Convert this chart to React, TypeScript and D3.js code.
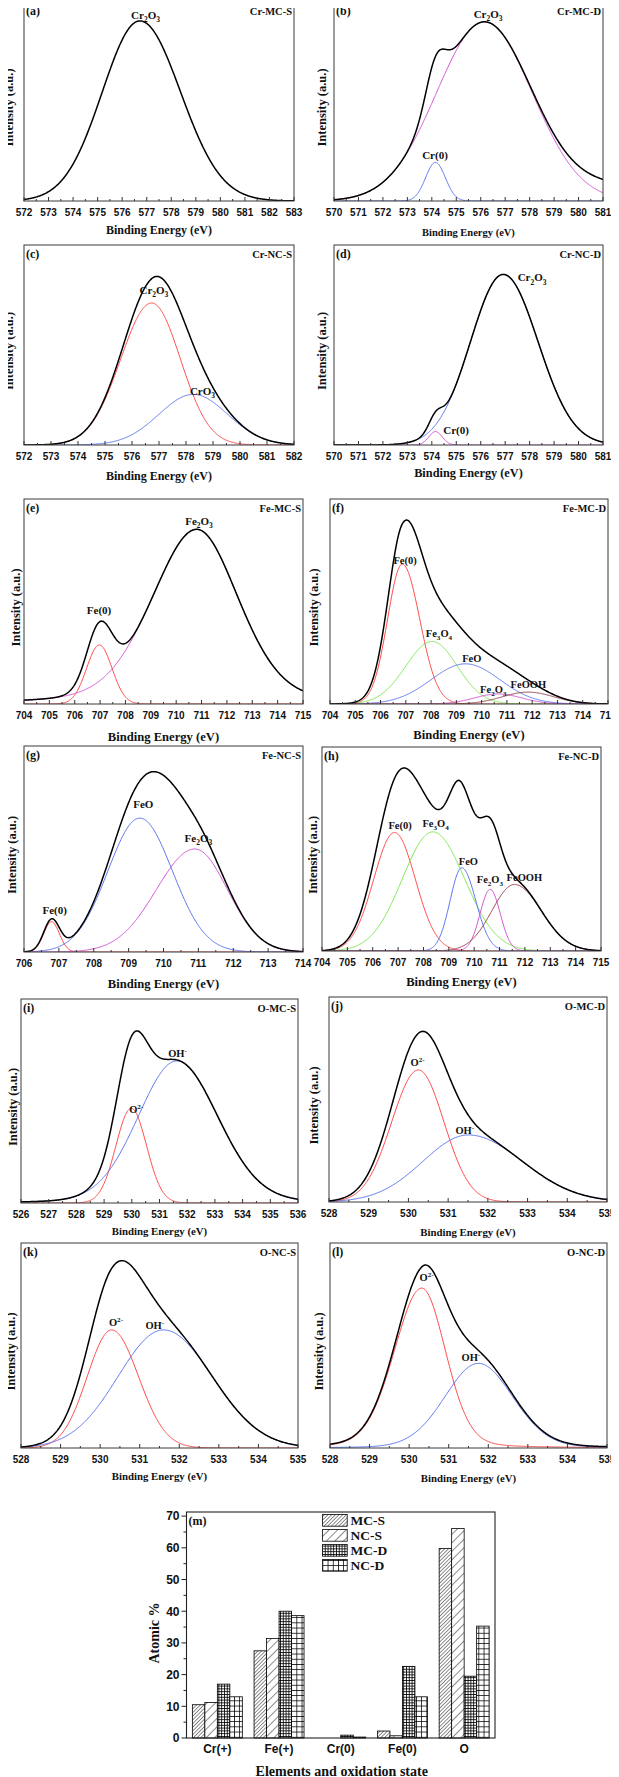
import React from "react";
import * as d3 from "d3";

// ---------------- DATA ----------------
// XPS peak fits: [component, centre (eV), height (fraction of plot height),
//                 FWHM on low-energy side, FWHM on high-energy side, Lorentzian fraction]
type Peak = [string, number, number, number, number, number];

const peaksCrMCS: Peak[] = [["Cr2O3", 576.72, 0.905, 3.6, 3.9, 0]];
const peaksCrMCD: Peak[] = [
  ["Cr2O3", 576.15, 0.9, 4.6, 4.6, 0],
  ["Cr(0)", 574.15, 0.194, 0.95, 0.95, 0],
  ["background", 581.5, 0.07, 4, 4, 0],
];
const peaksCrNCS: Peak[] = [
  ["Cr2O3", 576.73, 0.71, 2.7, 2.5, 0],
  ["CrO3", 578.27, 0.253, 3.0, 3.0, 0],
];
const peaksCrNCD: Peak[] = [
  ["Cr2O3", 576.92, 0.853, 3.15, 3.35, 0],
  ["Cr(0)", 574.15, 0.067, 0.65, 0.65, 0],
];
const peaksFeMCS: Peak[] = [
  ["Fe(0)", 706.97, 0.288, 1.18, 1.18, 0],
  ["Fe2O3", 710.81, 0.852, 4.2, 3.9, 0.25],
];
const peaksFeMCD: Peak[] = [
  ["Fe(0)", 706.86, 0.682, 1.37, 1.63, 0],
  ["Fe3O4", 708.04, 0.305, 2.45, 2.35, 0],
  ["FeO", 709.36, 0.196, 3.2, 3.2, 0],
  ["Fe2O3", 710.65, 0.049, 2.2, 2.2, 0],
  ["FeOOH", 711.84, 0.058, 2.4, 2.4, 0],
];
const peaksFeNCS: Peak[] = [
  ["Fe(0)", 706.79, 0.147, 0.53, 0.53, 0],
  ["FeO", 709.32, 0.65, 2.15, 2.2, 0],
  ["Fe2O3", 710.9, 0.5, 2.6, 2.2, 0],
];
const peaksFeNCD: Peak[] = [
  ["Fe(0)", 706.86, 0.581, 1.93, 1.93, 0],
  ["Fe3O4", 708.37, 0.584, 2.83, 2.95, 0],
  ["FeO", 709.51, 0.408, 1.08, 1.3, 0],
  ["Fe2O3", 710.63, 0.302, 0.94, 0.94, 0],
  ["FeOOH", 711.59, 0.326, 2.1, 2.47, 0],
];
const peaksOMCS: Peak[] = [
  ["O2-", 529.98, 0.464, 1.3, 1.3, 0],
  ["OH-", 531.62, 0.696, 3.3, 3.53, 0.1],
];
const peaksOMCD: Peak[] = [
  ["O2-", 530.25, 0.644, 1.58, 1.52, 0],
  ["OH-", 531.51, 0.327, 2.7, 3.2, 0],
];
const peaksONCS: Peak[] = [
  ["O2-", 530.29, 0.576, 1.45, 1.6, 0],
  ["OH-", 531.6, 0.576, 2.7, 2.9, 0],
];
const peaksONCD: Peak[] = [
  ["O2-", 530.32, 0.78, 1.65, 1.42, 0.15],
  ["OH-", 531.75, 0.413, 2.0, 2.05, 0.1],
];

// binding-energy axis ranges
const rangeA = [572, 583];
const rangeB = [570, 581];
const rangeC = [572, 582];
const rangeD = [570, 581];
const rangeE = [704, 715];
const rangeF = [704, 715];
const rangeG = [706, 714];
const rangeH = [704, 715];
const rangeI = [526, 536];
const rangeJ = [528, 535];
const rangeK = [528, 535];
const rangeL = [528, 535];

// peak annotations: [text, energy (eV), height fraction]
type Note = [string, number, number];
const notesA: Note[] = [["Cr_2O_3", 576.95, 0.915]];
const notesB: Note[] = [["Cr_2O_3", 576.3, 0.92], ["Cr(0)", 574.13, 0.211]];
const notesC: Note[] = [["Cr_2O_3", 576.81, 0.755], ["CrO_3", 578.61, 0.25]];
const notesD: Note[] = [["Cr_2O_3", 578.1, 0.818], ["Cr(0)", 574.99, 0.055]];
const notesE: Note[] = [["Fe_2O_3", 710.9, 0.873], ["Fe(0)", 706.96, 0.439]];
const notesF: Note[] = [
  ["Fe(0)", 706.97, 0.683], ["Fe_3O_4", 708.31, 0.327], ["FeO", 709.61, 0.206],
  ["Fe_2O_3", 710.46, 0.054], ["FeOOH", 711.85, 0.078],
];
const notesG: Note[] = [["FeO", 709.42, 0.699], ["Fe_2O_3", 711.0, 0.536], ["Fe(0)", 706.88, 0.186]];
const notesH: Note[] = [
  ["Fe(0)", 707.08, 0.598], ["Fe_3O_4", 708.48, 0.608], ["FeO", 709.77, 0.423],
  ["Fe_2O_3", 710.62, 0.333], ["FeOOH", 711.98, 0.345],
];
const notesI: Note[] = [["OH^-", 531.65, 0.716], ["O^{2-}", 530.16, 0.441]];
const notesJ: Note[] = [["O^{2-}", 530.23, 0.663], ["OH^-", 531.42, 0.334]];
const notesK: Note[] = [["O^{2-}", 530.4, 0.597], ["OH^-", 531.38, 0.582]];
const notesL: Note[] = [["O^{2-}", 530.44, 0.816], ["OH^-", 531.56, 0.424]];

// Atomic % bar chart
const elementStates = ["Cr(+)", "Fe(+)", "Cr(0)", "Fe(0)", "O"];
const sampleNames = ["MC-S", "NC-S", "MC-D", "NC-D"];
const atomicMCS = [10.5, 27.5, 0, 2.2, 59.8];
const atomicNCS = [11.2, 31.4, 0, 0.7, 66.1];
const atomicMCD = [17.0, 40.0, 0.9, 22.6, 19.5];
const atomicNCD = [13.0, 38.6, 0.3, 13.0, 35.3];
const atomicTicks = [0, 10, 20, 30, 40, 50, 60, 70];

// ---------------- STYLE / LAYOUT ----------------
const RED = "#ff4848";
const BLUE = "#5a74f0";
const MAG = "#d452d4";
const GREEN = "#7ee84e";
const BROWN = "#94404a";
const SERIF = "'Liberation Serif', 'Times New Roman', serif";
const SANS = "'Liberation Sans', Arial, sans-serif";

type PanelCfg = {
  id: string; name: string; peaks: Peak[]; range: number[]; notes: Note[];
  frame: [number, number, number, number]; colors: string[];
  yLabX: number; titleDy: number; titleSize: number; noteSize: number;
};

const panels: PanelCfg[] = [
  { id: "a", name: "Cr-MC-S", peaks: peaksCrMCS, range: rangeA, notes: notesA, frame: [24, 2, 294, 201], colors: [], yLabX: 8, titleDy: 33, titleSize: 12, noteSize: 11 },
  { id: "b", name: "Cr-MC-D", peaks: peaksCrMCD, range: rangeB, notes: notesB, frame: [334, 2, 603, 201], colors: [MAG, BLUE], yLabX: 321, titleDy: 35, titleSize: 10.5, noteSize: 11 },
  { id: "c", name: "Cr-NC-S", peaks: peaksCrNCS, range: rangeC, notes: notesC, frame: [24, 245, 294, 445], colors: [RED, BLUE], yLabX: 8, titleDy: 35, titleSize: 12, noteSize: 11 },
  { id: "d", name: "Cr-NC-D", peaks: peaksCrNCD, range: rangeD, notes: notesD, frame: [334, 245, 603, 445], colors: [BLUE, MAG], yLabX: 321, titleDy: 32, titleSize: 12.3, noteSize: 11 },
  { id: "e", name: "Fe-MC-S", peaks: peaksFeMCS, range: rangeE, notes: notesE, frame: [24, 499, 303, 704], colors: [RED, MAG], yLabX: 15, titleDy: 37, titleSize: 12.6, noteSize: 11 },
  { id: "f", name: "Fe-MC-D", peaks: peaksFeMCD, range: rangeF, notes: notesF, frame: [330, 499, 608, 704], colors: [RED, GREEN, BLUE, MAG, BROWN], yLabX: 313, titleDy: 35, titleSize: 12.6, noteSize: 10.5 },
  { id: "g", name: "Fe-NC-S", peaks: peaksFeNCS, range: rangeG, notes: notesG, frame: [24, 746, 303, 952], colors: [RED, BLUE, MAG], yLabX: 11.5, titleDy: 36, titleSize: 12.6, noteSize: 11 },
  { id: "h", name: "Fe-NC-D", peaks: peaksFeNCD, range: rangeH, notes: notesH, frame: [322, 747, 601, 951], colors: [RED, GREEN, BLUE, MAG, BROWN], yLabX: 312.5, titleDy: 35, titleSize: 12.5, noteSize: 10.5 },
  { id: "i", name: "O-MC-S", peaks: peaksOMCS, range: rangeI, notes: notesI, frame: [21, 999, 298, 1203], colors: [RED, BLUE], yLabX: 12.5, titleDy: 32, titleSize: 10.8, noteSize: 10.5 },
  { id: "j", name: "O-MC-D", peaks: peaksOMCD, range: rangeJ, notes: notesJ, frame: [329, 997, 607, 1202], colors: [RED, BLUE], yLabX: 313.3, titleDy: 34, titleSize: 10.8, noteSize: 10.5 },
  { id: "k", name: "O-NC-S", peaks: peaksONCS, range: rangeK, notes: notesK, frame: [21, 1243, 298, 1448], colors: [RED, BLUE], yLabX: 10, titleDy: 32, titleSize: 10.8, noteSize: 10.5 },
  { id: "l", name: "O-NC-D", peaks: peaksONCD, range: rangeL, notes: notesL, frame: [330, 1243, 607, 1448], colors: [RED, BLUE], yLabX: 318, titleDy: 34, titleSize: 10.8, noteSize: 10.5 },
];

function peakValue(p: Peak, x: number): number {
  const c = p[1], h = p[2], wl = p[3], wr = p[4], m = p[5];
  const w = x < c ? wl : wr;
  const t = (x - c) / w;
  return h * ((1 - m) * Math.exp(-4 * Math.LN2 * t * t) + m / (1 + 4 * t * t));
}

function Rich({ s, size }: { s: string; size: number }) {
  // parse _x (subscript) and ^x or ^{xx} (superscript)
  const parts: { t: string; k: number }[] = [];
  let i = 0;
  while (i < s.length) {
    const ch = s[i];
    if (ch === "_" || ch === "^") {
      let t = "";
      if (s[i + 1] === "{") {
        const j = s.indexOf("}", i);
        t = s.slice(i + 2, j);
        i = j + 1;
      } else {
        t = s[i + 1];
        i += 2;
      }
      parts.push({ t, k: ch === "_" ? 1 : -1 });
    } else {
      let t = "";
      while (i < s.length && s[i] !== "_" && s[i] !== "^") t += s[i++];
      parts.push({ t, k: 0 });
    }
  }
  const out: any[] = [];
  let cur = 0;
  parts.forEach((p, idx) => {
    const target = p.k === 1 ? size * 0.3 : p.k === -1 ? -size * 0.38 : 0;
    const dy = target - cur;
    cur = target;
    out.push(
      <tspan key={idx} dy={dy} fontSize={p.k === 0 ? size : size * 0.68}>
        {p.t}
      </tspan>
    );
  });
  return <>{out}</>;
}

function XpsPanel({ cfg }: { cfg: PanelCfg }) {
  const [L, T, R, B] = cfg.frame;
  const [e0, e1] = cfg.range;
  const xs = d3.scaleLinear().domain([e0, e1]).range([L, R]);
  const ys = d3.scaleLinear().domain([0, 1]).range([B, T]);
  const grid = d3.range(e0, e1 + 1e-9, 0.02);
  const comps = cfg.peaks.filter((p) => p[0] !== "background");
  const line = d3
    .line<[number, number]>()
    .x((d) => xs(d[0]))
    .y((d) => ys(d[1]));
  const envelope = line(grid.map((e) => [e, d3.sum(cfg.peaks, (p) => peakValue(p, e))]));
  const majors = d3.range(e0, e1 + 1e-9, 1);
  const minors = d3.range(e0 + 0.5, e1, 1);
  const clipId = "clip-" + cfg.id;
  const yLabSize = 12.5;
  return (
    <g>
      <clipPath id={clipId}>
        <rect x={L} y={T} width={R - L} height={B - T} />
      </clipPath>
      <g clipPath={`url(#${clipId})`}>
        {comps.length > 1 &&
          comps.map((p, i) => (
            <path
              key={i}
              d={line(grid.map((e) => [e, peakValue(p, e)])) || ""}
              fill="none"
              stroke={cfg.colors[i]}
              strokeWidth={1}
            />
          ))}
        <path d={envelope || ""} fill="none" stroke="#000" strokeWidth={1.5} />
      </g>
      <rect x={L} y={T} width={R - L} height={B - T} fill="none" stroke="#3a3a3a" strokeWidth={1} />
      {majors.map((v) => (
        <g key={"M" + v}>
          <line x1={xs(v)} x2={xs(v)} y1={B} y2={B - 4} stroke="#333" />
          <text x={xs(v)} y={B + 15} textAnchor="middle" fontFamily={SANS} fontWeight="bold" fontSize={10} fill="#111">
            {d3.format("d")(v)}
          </text>
        </g>
      ))}
      {minors.map((v) => (
        <line key={"m" + v} x1={xs(v)} x2={xs(v)} y1={B} y2={B - 2} stroke="#333" />
      ))}
      <text x={L + 2} y={T + 13} fontFamily={SERIF} fontWeight="bold" fontSize={12} fill="#111">
        ({cfg.id})
      </text>
      <text x={R - 2} y={T + 13} textAnchor="end" fontFamily={SERIF} fontWeight="bold" fontSize={10.5} fill="#111">
        {cfg.name}
      </text>
      {cfg.notes.map((n, i) => (
        <text key={i} x={xs(n[1])} y={ys(n[2])} textAnchor="middle" fontFamily={SERIF} fontWeight="bold" fill="#111">
          <Rich s={n[0]} size={cfg.noteSize} />
        </text>
      ))}
      <text
        x={(L + R) / 2}
        y={B + cfg.titleDy}
        textAnchor="middle"
        fontFamily={SERIF}
        fontWeight="bold"
        fontSize={cfg.titleSize}
        fill="#111"
      >
        Binding Energy (eV)
      </text>
      <text
        transform={`translate(${cfg.yLabX + yLabSize * 0.36},${(T + B) / 2 + 6}) rotate(-90)`}
        textAnchor="middle"
        fontFamily={SERIF}
        fontWeight="bold"
        fontSize={yLabSize}
        fill="#111"
      >
        Intensity (a.u.)
      </text>
    </g>
  );
}

function BarPanel() {
  const L = 186.5, R = 495, T = 1512, B = 1738;
  const series = [atomicMCS, atomicNCS, atomicMCD, atomicNCD];
  const fills = ["url(#patMCS)", "url(#patNCS)", "url(#patMCD)", "url(#patNCD)"];
  const x0 = d3.scaleBand<string>().domain(elementStates).range([L, R]).paddingInner(0.19).paddingOuter(0.095);
  const x1 = d3.scaleBand<string>().domain(sampleNames).range([0, x0.bandwidth()]);
  const y = d3.scaleLinear().domain([0, 71.3]).range([B, T]);
  const minorTicks = d3.range(5, 70, 10);
  return (
    <g>
      <defs>
        <pattern id="patMCS" patternUnits="userSpaceOnUse" width={2.6} height={2.6} patternTransform="rotate(45)">
          <rect width={2.6} height={2.6} fill="#fff" />
          <line x1={0} y1={0} x2={0} y2={2.6} stroke="#000" strokeWidth={0.9} />
        </pattern>
        <pattern id="patNCS" patternUnits="userSpaceOnUse" width={6} height={6} patternTransform="rotate(45)">
          <rect width={6} height={6} fill="#fff" />
          <line x1={0} y1={0} x2={0} y2={6} stroke="#000" strokeWidth={0.9} />
        </pattern>
        <pattern id="patMCD" patternUnits="userSpaceOnUse" width={2.8} height={2.8}>
          <rect width={2.8} height={2.8} fill="#fff" />
          <path d="M0 0.4H2.8M0.4 0V2.8" stroke="#000" strokeWidth={0.9} />
        </pattern>
        <pattern id="patNCD" patternUnits="userSpaceOnUse" width={5.2} height={5.2}>
          <rect width={5.2} height={5.2} fill="#fff" />
          <path d="M0 0.4H5.2M0.4 0V5.2" stroke="#000" strokeWidth={0.8} />
        </pattern>
      </defs>
      {elementStates.map((cat, ci) =>
        sampleNames.map((s, si) => {
          const v = series[si][ci];
          if (v <= 0) return null;
          return (
            <rect
              key={cat + s}
              x={(x0(cat) || 0) + (x1(s) || 0)}
              y={y(v)}
              width={x1.bandwidth()}
              height={y(0) - y(v)}
              fill={fills[si]}
              stroke="#000"
              strokeWidth={0.8}
            />
          );
        })
      )}
      <rect x={L} y={T} width={R - L} height={B - T} fill="none" stroke="#222" strokeWidth={1.1} />
      {atomicTicks.map((t) => (
        <g key={t}>
          <line x1={L} x2={L - 5} y1={y(t)} y2={y(t)} stroke="#222" />
          <text x={L - 7} y={y(t) + 4.3} textAnchor="end" fontFamily={SANS} fontWeight="bold" fontSize={12} fill="#111">
            {t}
          </text>
        </g>
      ))}
      {minorTicks.map((t) => (
        <line key={"mn" + t} x1={L} x2={L - 3} y1={y(t)} y2={y(t)} stroke="#222" />
      ))}
      {elementStates.map((c) => (
        <text
          key={c}
          x={(x0(c) || 0) + x0.bandwidth() / 2}
          y={B + 15}
          textAnchor="middle"
          fontFamily={SANS}
          fontWeight="bold"
          fontSize={12}
          fill="#111"
        >
          {c}
        </text>
      ))}
      <text x={(L + R) / 2 + 1} y={1776} textAnchor="middle" fontFamily={SERIF} fontWeight="bold" fontSize={14} fill="#111">
        Elements and oxidation state
      </text>
      <text
        transform={`translate(159,1633) rotate(-90)`}
        textAnchor="middle"
        fontFamily={SERIF}
        fontWeight="bold"
        fontSize={14}
        fill="#111"
      >
        Atomic %
      </text>
      <text x={L + 2} y={T + 13} fontFamily={SERIF} fontWeight="bold" fontSize={12} fill="#111">
        (m)
      </text>
      {sampleNames.map((s, i) => (
        <g key={"lg" + s}>
          <rect x={322.6} y={1514.5 + i * 15} width={24.6} height={11.7} fill={fills[i]} stroke="#000" strokeWidth={0.8} />
          <text x={350.4} y={1525 + i * 15} fontFamily={SERIF} fontWeight="bold" fontSize={13.5} fill="#111">
            {s}
          </text>
        </g>
      ))}
    </g>
  );
}

export default function App() {
  return (
    <div style={{ position: "relative", width: 619, height: 1777 }}>
      <svg
        width={619}
        height={1777}
        viewBox="0 0 619 1777"
        style={{ position: "absolute", left: -8, top: -8, background: "#fff" }}
      >
        <rect width={619} height={1777} fill="#fff" />
        {panels.map((p) => (
          <XpsPanel key={p.id} cfg={p} />
        ))}
        <BarPanel />
      </svg>
    </div>
  );
}
